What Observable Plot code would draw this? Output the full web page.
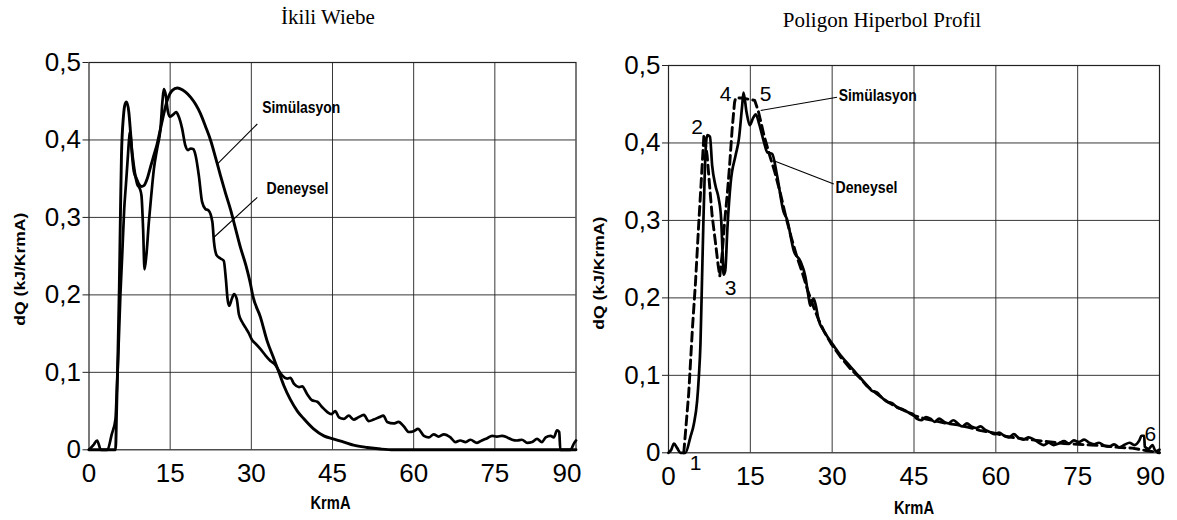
<!DOCTYPE html>
<html>
<head>
<meta charset="utf-8">
<script src="https://cdn.jsdelivr.net/npm/d3@7"></script>
<script src="https://cdn.jsdelivr.net/npm/@observablehq/plot@0.6"></script>
<style>
  html, body { margin: 0; padding: 0; background: #fff; }
  #wrap { position: relative; width: 1177px; height: 520px; overflow: hidden; background: #fff; }
  .title { position: absolute; font-family: "Liberation Serif", "Times New Roman", serif; font-size: 21px; line-height: 26px; color: #000; white-space: nowrap; transform: translateX(-50%); }
  .panel { position: absolute; top: 0; }
</style>
</head>
<body>
<div id="wrap">
  <div class="title" style="left:328px; top:4px;">İkili Wiebe</div>
  <div class="title" style="left:882px; top:7px;">Poligon Hiperbol Profil</div>
  <div class="panel" id="left" style="left:0px;"></div>
  <div class="panel" id="right" style="left:590px;"></div>
</div>
<script>
// ---- shared axis values ----
const xTicksMid = [0, 15, 30, 45, 60, 75];
const xTickEnd = [90];
const xGrid = [15, 30, 45, 60, 75];
const yTicks = [0, 0.1, 0.2, 0.3, 0.4, 0.5];
const yGrid = [0.1, 0.2, 0.3, 0.4];
const xLabel = "KrmA";
const yLabel = "dQ (kJ/KrmA)";

// ---- left panel: İkili Wiebe ----
const wiebeSimulasyon = [
  [0,0],[4.9,0],[5.1,0.05],[5.3,0.11],[5.6,0.21],[5.8,0.30],[6.0,0.38],[6.36,0.43],[6.7,0.447],[6.93,0.449],
  [7.36,0.436],[7.67,0.410],[7.98,0.380],[8.29,0.360],[8.78,0.350],[9.21,0.343],[9.7,0.340],[10.13,0.341],
  [10.75,0.350],[11.36,0.365],[11.98,0.380],[12.6,0.395],[13.2,0.414],[13.83,0.434],[14.45,0.451],[15.4,0.464],
  [16.3,0.467],[16.9,0.466],[17.8,0.462],[18.8,0.455],[19.7,0.446],[20.6,0.434],[21.5,0.418],[22.5,0.399],
  [23.4,0.377],[24.3,0.354],[25.2,0.332],[26.2,0.309],[27.1,0.285],[28.0,0.261],[29.0,0.238],[29.9,0.212],
  [30.2,0.201],[31.7,0.171],[32.9,0.141],[34.2,0.117],[35.1,0.100],[36.0,0.083],[37.2,0.065],[38.5,0.050],
  [39.7,0.040],[41.5,0.027],[43.4,0.018],[45.1,0.014],[47.1,0.010],[48.9,0.006],[51.4,0.003],[53.9,0.001],
  [56.3,0],[90,0]
];
const wiebeDeneysel = [
  [0,0],[0.8,0.006],[1.5,0.012],[2.2,0],[3.4,0],[4.2,0.02],[4.9,0.04],[5.1,0.07],[5.4,0.12],[5.8,0.2],
  [6.13,0.25],[6.5,0.31],[6.8,0.34],[7.1,0.37],[7.4,0.40],[7.55,0.41],[7.98,0.384],[8.28,0.367],[8.9,0.343],
  [9.4,0.337],[9.7,0.328],[10.0,0.285],[10.26,0.233],[10.6,0.251],[11.06,0.294],[11.5,0.328],[12.0,0.363],
  [12.6,0.389],[13.2,0.414],[13.6,0.452],[13.83,0.4658],[14.1,0.461],[14.6,0.436],[14.9,0.430],[15.6,0.433],
  [16.1,0.436],[16.6,0.430],[17.2,0.415],[17.8,0.393],[18.3,0.387],[18.8,0.389],[19.3,0.388],[19.7,0.38],
  [20.3,0.354],[20.9,0.32],[21.5,0.311],[22.1,0.309],[22.8,0.294],[23.1,0.268],[23.6,0.251],[24.3,0.247],
  [24.9,0.244],[25.3,0.22],[25.6,0.195],[25.9,0.186],[26.4,0.195],[26.8,0.201],[27.3,0.195],[27.7,0.175],
  [28.3,0.165],[28.9,0.158],[29.5,0.151],[30.2,0.141],[30.8,0.137],[31.7,0.130],[32.6,0.122],[33.5,0.115],
  [34.5,0.109],[35.1,0.102],[35.7,0.096],[36.6,0.092],[37.2,0.093],[37.9,0.085],[38.8,0.081],[39.4,0.082],
  [40.3,0.072],[41.2,0.064],[42.2,0.062],[43.1,0.055],[44.0,0.049],[44.8,0.046],[45.5,0.050],[46.2,0.042],
  [47.1,0.040],[48.0,0.044],[48.9,0.039],[49.8,0.042],[50.8,0.045],[51.7,0.037],[52.6,0.039],[53.6,0.042],
  [54.4,0.044],[55.1,0.036],[56.3,0.034],[57.2,0.036],[58.2,0.030],[59.1,0.023],[60.0,0.024],[60.8,0.027],
  [61.9,0.018],[62.8,0.016],[63.7,0.020],[64.6,0.017],[65.6,0.020],[66.8,0.016],[67.7,0.010],[68.6,0.012],
  [69.6,0.010],[70.5,0.013],[71.7,0.009],[72.6,0.012],[73.6,0.015],[74.5,0.018],[75.4,0.017],[76.3,0.018],
  [77.3,0.016],[78.2,0.013],[79.1,0.012],[80.0,0.013],[81.0,0.009],[81.9,0.010],[82.8,0.014],[83.7,0.010],
  [84.4,0.016],[85.3,0.018],[85.9,0.016],[86.5,0.025],[86.9,0.023],[87.1,0],[89.0,0],[89.6,0.008],[90,0.012]
];
const wiebeLabels = [
  {x: 32.0, y: 0.442, text: "Simülasyon"},
  {x: 32.8, y: 0.3375, text: "Deneysel"}
];
const wiebeLeaders = [
  {x1: 31.1, y1: 0.4206, x2: 23.7, y2: 0.3689},
  {x1: 31.1, y1: 0.3259, x2: 23.1, y2: 0.2744}
];

// ---- right panel: Poligon Hiperbol Profil ----
const poligonSimulasyon = [
  [2.8,0],[3.7,0.076],[4.4,0.162],[4.95,0.22],[5.56,0.298],[6.17,0.371],[6.5,0.411],[7.08,0.384],[7.58,0.341],
  [8.0,0.306],[8.6,0.272],[9.1,0.242],[9.4,0.228],[9.8,0.254],[10.27,0.297],[10.75,0.332],[11.2,0.371],
  [11.67,0.418],[12.1,0.452],[12.3,0.458],[13.5,0.458],[15.8,0.455],[16.5,0.44],[17.5,0.41],[18.5,0.385],
  [19.5,0.362],[20.5,0.335],[21.5,0.305],[22.5,0.278],[23.5,0.254],[24.5,0.233],[25.5,0.21],[26.5,0.19],
  [27.5,0.172],[28.5,0.157],[29.8,0.141],[31.5,0.124],[33.4,0.108],[34.9,0.098],[36.4,0.086],[38.2,0.076],
  [40.1,0.066],[41.9,0.059],[43.7,0.053],[45,0.048],[47,0.044],[49,0.041],[51,0.038],[53,0.036],[55,0.033],
  [57,0.029],[60,0.025],[62,0.021],[65,0.018],[67.5,0.016],[70,0.014],[72.5,0.012],[75,0.011],[77.5,0.010],
  [80,0.009],[82.5,0.007],[85,0.006],[87.5,0.003],[90,0]
];
const poligonDeneysel = [
  [0,0],[0.5,0.004],[1.0,0.012],[1.6,0.006],[2.2,0],[3.1,0],[4.0,0.02],[4.64,0.037],[5.25,0.067],[5.56,0.098],
  [5.86,0.141],[6.1,0.21],[6.4,0.30],[6.6,0.35],[6.8,0.39],[7.1,0.41],[7.6,0.408],[8.0,0.371],[8.6,0.345],
  [9.2,0.328],[9.65,0.302],[9.9,0.26],[10.1,0.23],[10.4,0.235],[10.8,0.29],[11.4,0.349],[12.3,0.384],
  [12.9,0.405],[13.5,0.448],[13.75,0.465],[14.3,0.44],[14.9,0.423],[15.5,0.432],[16.0,0.437],[16.6,0.425],
  [17.5,0.401],[18.1,0.388],[19.0,0.386],[19.9,0.358],[21.1,0.311],[21.7,0.302],[23.0,0.26],[24.2,0.247],
  [25.1,0.227],[25.7,0.20],[26.0,0.19],[26.6,0.199],[27.0,0.19],[27.5,0.172],[28.5,0.157],[29.5,0.146],
  [30.5,0.136],[31.5,0.126],[32.5,0.118],[33.5,0.110],[34.5,0.102],[35.5,0.094],[36.4,0.087],[37.3,0.080],
  [38.2,0.078],[39.0,0.072],[40.0,0.066],[41.0,0.064],[42.0,0.058],[43.0,0.056],[44.0,0.052],[44.8,0.050],
  [45.5,0.044],[46.3,0.042],[47.2,0.046],[48.0,0.044],[48.8,0.040],[49.6,0.044],[50.5,0.040],[51.3,0.038],
  [52.2,0.042],[53.0,0.038],[53.8,0.034],[54.7,0.038],[55.5,0.034],[56.4,0.032],[57.2,0.034],[58.0,0.030],
  [58.9,0.027],[59.8,0.024],[60.6,0.026],[61.5,0.022],[62.4,0.020],[63.3,0.024],[64.2,0.019],[65.1,0.017],
  [66.0,0.020],[67.0,0.017],[67.9,0.013],[68.8,0.010],[69.7,0.013],[70.6,0.010],[71.5,0.012],[72.5,0.015],
  [73.4,0.012],[74.3,0.016],[75.2,0.014],[76.2,0.017],[77.1,0.013],[78.0,0.011],[78.9,0.013],[79.9,0.009],
  [80.8,0.008],[81.7,0.011],[82.6,0.007],[83.5,0.010],[84.5,0.013],[85.4,0.010],[86.3,0.016],[86.7,0.022],
  [87.2,0.022],[87.3,0.008],[88.0,0.005],[88.7,0.010],[89.3,0.002],[90,0.004]
];
const poligonLabels = [
  {x: 31.2, y: 0.461, text: "Simülasyon"},
  {x: 30.6, y: 0.343, text: "Deneysel"}
];
const poligonLeaders = [
  {x1: 30.9, y1: 0.459, x2: 16.9, y2: 0.442},
  {x1: 30.3, y1: 0.347, x2: 19.3, y2: 0.377}
];
const poligonPoints = [
  {x: 4.95, y: -0.014, text: "1"},
  {x: 5.26, y: 0.420, text: "2"},
  {x: 11.4, y: 0.212, text: "3"},
  {x: 10.45, y: 0.463, text: "4"},
  {x: 17.8, y: 0.463, text: "5"},
  {x: 88.3, y: 0.0245, text: "6"}
];

// condensed-looking labels: target rendered lengths (px)
const condensedLength = {"KrmA": 40, "Simülasyon": 78, "Deneysel": 62, "dQ (kJ/KrmA)": 113};

const sansBold = "'Liberation Sans', Arial, sans-serif";
const fmt = d => d === 0 ? "0" : String(d).replace(".", ",");

function panel(opts) {
  const {width, margins, sim, den, dashed, labels, leaders, points, yLabelDx, yLabelDy, xLabelDx, xLabelDy} = opts;
  const marks = [
    Plot.gridX(xGrid, {stroke: "#222", strokeOpacity: 0.9, strokeWidth: 1}),
    Plot.gridY(yGrid, {stroke: "#222", strokeOpacity: 0.9, strokeWidth: 1}),
    Plot.frame({stroke: "#222", strokeWidth: 1.2}),
    Plot.axisY(yTicks, {tickSize: 6, tickPadding: 2, tickFormat: fmt, label: null, fontSize: 26, stroke: "#222"}),
    Plot.axisX(xTicksMid, {tickSize: 0, tickPadding: 14, label: null, fontSize: 26}),
    Plot.axisX(xTickEnd, {tickSize: 0, tickPadding: 14, label: null, fontSize: 26, dx: -9}),
    Plot.text([yLabel], {text: d => d, frameAnchor: "left", textAnchor: "middle", lineAnchor: "middle",
      rotate: -90, dx: yLabelDx, dy: yLabelDy,
      fontSize: 15, fontWeight: "bold", fontFamily: sansBold, fill: "#000"}),
    Plot.text([xLabel], {text: d => d, frameAnchor: "bottom", textAnchor: "middle", lineAnchor: "middle",
      dx: xLabelDx, dy: xLabelDy, fontSize: 18, fontWeight: "bold", fontFamily: sansBold, fill: "#000"}),
    Plot.line(den, {x: d => d[0], y: d => d[1], stroke: "#000", strokeWidth: 2.7, curve: "monotone-x"}),
    Plot.line(sim, {x: d => d[0], y: d => d[1], stroke: "#000", strokeWidth: 2.9,
      strokeDasharray: dashed ? "9,5" : null, curve: dashed ? "linear" : "monotone-x"}),
    Plot.link(leaders, {x1: "x1", y1: "y1", x2: "x2", y2: "y2", stroke: "#000", strokeWidth: 1.1}),
    Plot.text(labels, {x: "x", y: "y", text: "text", textAnchor: "start", fontSize: 17, fontWeight: "bold",
      fontFamily: sansBold, fill: "#000"})
  ];
  if (points) {
    marks.push(Plot.text(points, {x: "x", y: "y", text: "text", fontSize: 21,
      fontFamily: "'Liberation Sans', Arial, sans-serif", fill: "#000"}));
  }
  return Plot.plot({
    width, height: 520,
    marginLeft: margins[0], marginRight: margins[1], marginTop: margins[2], marginBottom: margins[3],
    x: {domain: [0, 90], axis: null},
    y: {domain: [0, 0.5], axis: null},
    style: {fontFamily: "'Liberation Sans', Arial, sans-serif", fontSize: "26px", color: "#000",
      background: "transparent", overflow: "visible"},
    marks
  });
}

function condense(svg) {
  svg.querySelectorAll("text").forEach(t => {
    const L = condensedLength[t.textContent];
    if (L) {
      t.setAttribute("textLength", L);
      t.setAttribute("lengthAdjust", "spacingAndGlyphs");
    }
  });
}

const leftSvg = panel({
  width: 590, margins: [88.5, 14.5, 62, 70.7],
  sim: wiebeSimulasyon, den: wiebeDeneysel, dashed: false,
  labels: wiebeLabels, leaders: wiebeLeaders, points: null,
  yLabelDx: -68.5, yLabelDy: 13, xLabelDx: -2, xLabelDy: 53
});
document.getElementById("left").appendChild(leftSvg);
condense(leftSvg);

const rightSvg = panel({
  width: 587, margins: [78, 18, 65, 67.7],
  sim: poligonSimulasyon, den: poligonDeneysel, dashed: true,
  labels: poligonLabels, leaders: poligonLeaders, points: poligonPoints,
  yLabelDx: -69, yLabelDy: 14, xLabelDx: 0, xLabelDy: 55
});
document.getElementById("right").appendChild(rightSvg);
condense(rightSvg);
</script>
</body>
</html>
